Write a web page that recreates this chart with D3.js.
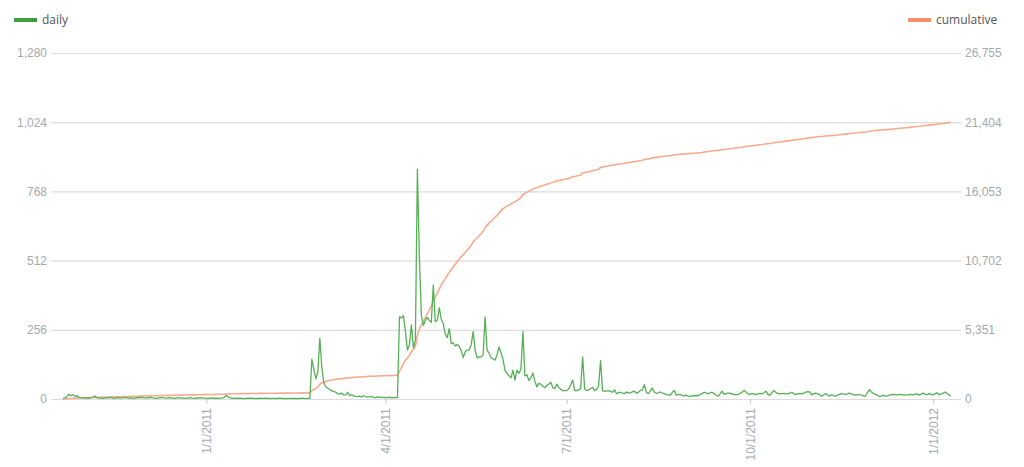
<!DOCTYPE html>
<html>
<head>
<meta charset="utf-8">
<script src="https://cdn.jsdelivr.net/npm/d3@7"></script>
<style>
  body { margin: 0; background: #fff; }
  svg { font-family: "Open Sans", "Noto Sans", sans-serif; }
  .axis text { fill: #a3a8ad; font-size: 12px; }
  .axis .domain { display: none; }
  .grid line { stroke: #dcdcdc; stroke-width: 1.2; }
  .legend text { fill: #555; font-size: 12px; }
</style>
</head>
<body>
<svg id="chart"></svg>
<script>
// first day of the daily series
const startDate = "2010-10-21";

// daily counts, one value per day, by month
const dailyOct2010 = [2, 4, 8, 18, 12, 16, 10, 12, 6, 5, 4];
const dailyNov2010 = [3, 4, 2, 5, 6, 11, 5, 3, 4, 2, 3, 5, 4, 6, 3, 2, 4, 5, 3, 4, 6, 5, 3, 4, 2, 3, 5, 4, 6, 5];
const dailyDec2010 = [4, 3, 5, 6, 4, 3, 2, 4, 5, 6, 4, 3, 5, 4, 3, 2, 4, 5, 4, 3, 2, 3, 4, 5, 3, 2, 4, 3, 5, 4, 3];
const dailyJan2011 = [3, 2, 3, 4, 2, 3, 2, 3, 4, 6, 14, 7, 4, 3, 2, 3, 2, 3, 2, 1, 2, 3, 2, 3, 2, 1, 2, 3, 2, 2, 3];
const dailyFeb2011 = [2, 1, 2, 2, 1, 2, 3, 2, 1, 2, 1, 2, 2, 1, 2, 1, 2, 3, 2, 1, 2, 2, 147, 110, 75, 100, 225, 120];
const dailyMar2011 = [60, 45, 40, 35, 30, 28, 25, 20, 18, 22, 15, 14, 25, 12, 16, 12, 10, 9, 11, 8, 12, 9, 7, 8, 10, 6, 5, 8, 6, 7, 5];
const dailyApr2011 = [6, 5, 7, 4, 6, 5, 5, 304, 300, 308, 250, 181, 200, 274, 189, 218, 850, 520, 310, 272, 290, 302, 290, 284,
                      422, 286, 292, 337, 295, 278];
const dailyMay2011 = [240, 227, 260, 205, 208, 196, 202, 194, 180, 153, 175, 181, 181, 200, 249, 181, 152, 156, 156, 163,
                      304, 181, 170, 152, 148, 144, 163, 193, 170, 146, 107];
const dailyJun2011 = [95, 86, 78, 107, 70, 107, 95, 110, 249, 85, 90, 68, 78, 96, 66, 45, 58, 55, 47, 42,
                      50, 55, 62, 42, 38, 55, 42, 36, 31, 31];
const dailyJul2011 = [31, 38, 53, 70, 31, 31, 34, 38, 156, 38, 31, 34, 38, 43, 31, 36, 48, 142, 31, 28,
                      30, 31, 28, 25, 34, 20, 23, 25, 22, 20, 25];
const dailyAug2011 = [24, 22, 27, 29, 21, 25, 32, 34, 54, 24, 20, 29, 41, 26, 21, 23, 26, 22, 20, 16,
                      15, 14, 24, 32, 14, 16, 17, 13, 11, 14, 11];
const dailySep2011 = [10, 12, 12, 13, 12, 17, 20, 25, 22, 20, 23, 25, 20, 14, 10, 19, 29, 17, 20, 22,
                      22, 19, 16, 16, 17, 20, 25, 32, 26, 19];
const dailyOct2011 = [16, 21, 18, 16, 19, 21, 19, 23, 29, 18, 13, 23, 31, 25, 21, 19, 20, 21, 20, 19,
                      22, 25, 20, 16, 19, 21, 19, 22, 25, 27, 26];
const dailyNov2011 = [15, 19, 22, 19, 16, 10, 15, 20, 14, 11, 15, 13, 10, 14, 17, 20, 18, 16, 19, 22,
                      18, 16, 14, 16, 16, 14, 12, 10, 24, 35];
const dailyDec2011 = [26, 21, 17, 14, 9, 11, 14, 11, 11, 14, 16, 17, 16, 15, 17, 16, 15, 14, 15, 17,
                      16, 15, 18, 19, 14, 18, 22, 17, 16, 20, 16];
const dailyJan2012 = [15, 20, 23, 15, 19, 21, 26, 20, 15, 11];

// axis ticks
const xTickDates = ["2011-01-01", "2011-04-01", "2011-07-01", "2011-10-01", "2012-01-01"];
const xTickLabels = ["1/1/2011", "4/1/2011", "7/1/2011", "10/1/2011", "1/1/2012"];
const leftTicks = [0, 256, 512, 768, 1024, 1280];
const rightTicks = [0, 5351, 10702, 16053, 21404, 26755];

const seriesNames = ["daily", "cumulative"];
const seriesColors = ["#3d9e3d", "#f39068"];

const width = 1024, height = 467;
const margin = {top: 53, right: 63, bottom: 68, left: 51};
const innerW = width - margin.left - margin.right;
const innerH = height - margin.top - margin.bottom;

const parse = d3.utcParse("%Y-%m-%d");
const daily = [].concat(dailyOct2010, dailyNov2010, dailyDec2010, dailyJan2011, dailyFeb2011, dailyMar2011,
  dailyApr2011, dailyMay2011, dailyJun2011, dailyJul2011, dailyAug2011, dailySep2011, dailyOct2011,
  dailyNov2011, dailyDec2011, dailyJan2012);
const cumulative = Array.from(d3.cumsum(daily));
const t0 = parse(startDate);
const data = daily.map((v, i) => ({date: d3.utcDay.offset(t0, i), daily: v, cumulative: cumulative[i]}));

const svg = d3.select("#chart")
    .attr("width", width)
    .attr("height", height);

const chart = svg.append("g")
    .attr("transform", `translate(${margin.left},${margin.top})`);

const xScale = d3.scaleUtc()
    .domain([d3.utcDay.offset(t0, -6), d3.utcDay.offset(data[data.length - 1].date, 5)])
    .range([0, innerW]);

const yLeft = d3.scaleLinear()
    .domain([0, leftTicks[leftTicks.length - 1]])
    .range([innerH, 0]);

const yRight = d3.scaleLinear()
    .domain([0, rightTicks[rightTicks.length - 1]])
    .range([innerH, 0]);

// left axis doubles as gridlines
chart.append("g")
    .attr("class", "axis grid")
    .call(d3.axisLeft(yLeft)
      .tickValues(leftTicks)
      .tickSize(-innerW)
      .tickPadding(4)
      .tickFormat(d3.format(",")));

chart.append("g")
    .attr("class", "axis")
    .attr("transform", `translate(${innerW},0)`)
    .call(d3.axisRight(yRight)
      .tickValues(rightTicks)
      .tickSize(0)
      .tickPadding(4)
      .tickFormat(d3.format(",")));

const xAxisG = chart.append("g")
    .attr("class", "axis")
    .attr("transform", `translate(0,${innerH})`)
    .call(d3.axisBottom(xScale)
      .tickValues(xTickDates.map(parse))
      .tickSize(5)
      .tickFormat((d, i) => xTickLabels[i]));

xAxisG.selectAll(".tick line").attr("stroke", "#c8c8c8");
xAxisG.selectAll(".tick text")
    .attr("text-anchor", "end")
    .attr("x", 0)
    .attr("y", 0)
    .attr("dy", "0.35em")
    .attr("transform", "translate(0,9) rotate(-90)");

const lineDaily = d3.line()
    .x(d => xScale(d.date))
    .y(d => yLeft(d.daily));

const lineCum = d3.line()
    .x(d => xScale(d.date))
    .y(d => yRight(d.cumulative));

chart.append("path")
    .datum(data)
    .attr("fill", "none")
    .attr("stroke", "#f7ab8e")
    .attr("stroke-width", 1.6)
    .attr("d", lineCum);

chart.append("path")
    .datum(data)
    .attr("fill", "none")
    .attr("stroke", "#55b055")
    .attr("stroke-width", 1.3)
    .attr("stroke-linejoin", "round")
    .attr("d", lineDaily);

// legends
const legend = svg.append("g").attr("class", "legend");
const legendPos = [{x: 14}, {x: 908}];
seriesNames.forEach((name, i) => {
  const g = legend.append("g").attr("transform", `translate(${legendPos[i].x},20)`);
  g.append("rect")
      .attr("x", 0).attr("y", -2)
      .attr("width", 23).attr("height", 4)
      .attr("fill", seriesColors[i]);
  g.append("text")
      .attr("x", 28).attr("y", 0)
      .attr("dy", "0.35em")
      .text(name);
});
</script>
</body>
</html>
